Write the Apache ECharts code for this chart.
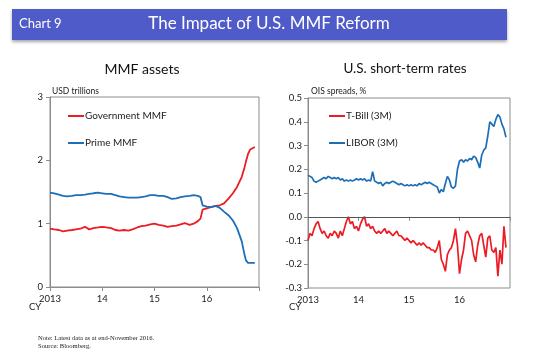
<!DOCTYPE html>
<html>
<head>
<meta charset="utf-8">
<script src="https://cdn.jsdelivr.net/npm/echarts@6/dist/echarts.min.js"></script>
<style>
html,body{margin:0;padding:0;background:#fff;}
#c{width:550px;height:363px;}
</style>
</head>
<body>
<div id="c"></div>
<script>
// ---- Left panel: MMF assets (USD trillions) ----
var leftDates = [2013.00,2013.08,2013.17,2013.25,2013.33,2013.42,2013.50,2013.58,2013.67,2013.75,2013.83,2013.92,
  2014.00,2014.08,2014.17,2014.25,2014.33,2014.42,2014.50,2014.58,2014.67,2014.75,2014.83,2014.92,
  2015.00,2015.08,2015.17,2015.25,2015.33,2015.42,2015.50,2015.58,2015.67,2015.75,2015.83,2015.88,2015.92,
  2016.00,2016.08,2016.17,2016.25,2016.33,2016.42,2016.50,2016.58,2016.67,2016.72,2016.75,2016.79,2016.83,2016.92];
var governmentMMF = [0.92,0.91,0.90,0.88,0.89,0.90,0.91,0.92,0.95,0.91,0.93,0.94,
  0.95,0.94,0.93,0.90,0.89,0.90,0.89,0.91,0.94,0.96,0.97,0.99,
  1.00,0.98,0.97,0.95,0.96,0.97,0.99,1.01,0.98,1.00,1.04,1.08,1.22,
  1.24,1.26,1.28,1.29,1.32,1.40,1.48,1.58,1.74,1.88,1.98,2.10,2.17,2.21];
var primeMMF = [1.49,1.48,1.46,1.44,1.43,1.44,1.45,1.45,1.46,1.47,1.48,1.49,
  1.48,1.47,1.47,1.45,1.43,1.42,1.41,1.41,1.41,1.42,1.43,1.45,
  1.45,1.44,1.44,1.42,1.39,1.40,1.42,1.43,1.44,1.45,1.44,1.42,1.29,
  1.27,1.26,1.28,1.25,1.19,1.13,1.05,0.93,0.72,0.52,0.42,0.38,0.38,0.38];
var leftYTicks = [0, 1, 2, 3];

// ---- Right panel: U.S. short-term rates (OIS spreads, %) ----
var rightStart = 2013.00, rightStep = 0.04; // two-weekly observation index
var tBill3M = [-0.10,-0.07,-0.08,-0.05,-0.03,-0.02,-0.05,-0.07,-0.06,-0.08,
  -0.09,-0.07,-0.08,-0.06,-0.07,-0.09,-0.06,-0.08,-0.05,-0.02,
  0.00,-0.03,-0.02,-0.05,-0.04,-0.06,-0.03,-0.01,0.00,-0.04,
  -0.03,-0.05,-0.04,-0.06,-0.07,-0.06,-0.07,-0.06,-0.05,-0.07,
  -0.06,-0.07,-0.08,-0.07,-0.06,-0.08,-0.08,-0.09,-0.10,-0.09,
  -0.10,-0.11,-0.10,-0.11,-0.12,-0.11,-0.12,-0.11,-0.12,-0.13,
  -0.13,-0.14,-0.14,-0.15,-0.13,-0.10,-0.18,-0.20,-0.23,-0.16,
  -0.14,-0.13,-0.10,-0.05,-0.12,-0.24,-0.18,-0.14,-0.07,-0.06,
  -0.08,-0.10,-0.16,-0.19,-0.12,-0.08,-0.07,-0.12,-0.17,-0.09,
  -0.08,-0.14,-0.15,-0.13,-0.25,-0.14,-0.20,-0.04,-0.13];
var libor3M = [0.175,0.17,0.165,0.15,0.145,0.15,0.155,0.16,0.165,0.16,
  0.17,0.165,0.16,0.165,0.16,0.165,0.155,0.16,0.15,0.155,
  0.15,0.155,0.15,0.155,0.16,0.155,0.16,0.155,0.16,0.15,
  0.155,0.15,0.19,0.15,0.145,0.14,0.145,0.13,0.14,0.145,
  0.14,0.145,0.15,0.145,0.14,0.135,0.14,0.135,0.13,0.135,
  0.13,0.135,0.13,0.135,0.13,0.14,0.135,0.14,0.145,0.14,
  0.145,0.14,0.135,0.13,0.125,0.10,0.115,0.105,0.14,0.17,
  0.155,0.125,0.12,0.13,0.20,0.235,0.24,0.23,0.24,0.235,
  0.245,0.24,0.255,0.25,0.23,0.205,0.26,0.28,0.29,0.34,
  0.40,0.39,0.38,0.41,0.43,0.42,0.39,0.37,0.335];
var rightYTicks = [-0.3,-0.2,-0.1,0.0,0.1,0.2,0.3,0.4,0.5];

var xYears = [2013, 2014, 2015, 2016, 2017];

function pairs(xs, ys){ return ys.map(function(v,i){ return [xs[i], v]; }); }
function idxPairs(ys){ return ys.map(function(v,i){ return [+(rightStart + i*rightStep).toFixed(2), v]; }); }

var RED = '#ec1c24', BLUE = '#1c6fb6', AX = '#8c8c8c';
var labelFont = 'Lato, "Open Sans", sans-serif';

function xAxisCfg(gi){
  return {
    type:'value', gridIndex:gi, min:xYears[0], max:xYears[xYears.length-1], interval:1,
    axisLine:{show:true, lineStyle:{color:AX, width:1}},
    axisTick:{show:true, length:4, lineStyle:{color:AX}},
    splitLine:{show:false},
    axisLabel:{fontSize:9.5, color:'#222', fontFamily:labelFont, margin:7,
      formatter:function(v){ if(v===2013) return '2013'; if(v===2017) return ''; return String(v).slice(2); }}
  };
}

function legendCfg(left, names){
  return {orient:'vertical', left:left, top:111, padding:0, itemGap:17, itemWidth:16, itemHeight:2, icon:'rect',
    textStyle:{fontSize:10, color:'#222', fontFamily:labelFont, padding:[0,0,0,-4]},
    data:names};
}

var chart = echarts.init(document.getElementById('c'), null, {renderer:'canvas'});
chart.setOption({
  animation:false,
  backgroundColor:'#fff',
  grid:[
    {left:50, top:97, width:209, height:190, show:true, borderColor:AX, borderWidth:1, backgroundColor:'transparent'},
    {left:308, top:98, width:202, height:190, show:true, borderColor:AX, borderWidth:1, backgroundColor:'transparent'}
  ],
  xAxis:[xAxisCfg(0), xAxisCfg(1)],
  yAxis:[
    {type:'value', gridIndex:0, min:leftYTicks[0], max:leftYTicks[leftYTicks.length-1], interval:1,
      axisLine:{show:true, lineStyle:{color:AX}}, axisTick:{show:true, length:4, lineStyle:{color:AX}},
      splitLine:{show:false},
      axisLabel:{fontSize:9.5, color:'#222', fontFamily:labelFont, margin:7}},
    {type:'value', gridIndex:1, min:rightYTicks[0], max:rightYTicks[rightYTicks.length-1], interval:0.1,
      axisLine:{show:true, lineStyle:{color:AX}}, axisTick:{show:true, length:4, lineStyle:{color:AX}},
      splitLine:{show:false},
      axisLabel:{fontSize:9.5, color:'#222', fontFamily:labelFont, margin:6,
        formatter:function(v){ return (Math.round(v*10)/10).toFixed(1); }}}
  ],
  legend:[
    legendCfg(68, ['Government MMF','Prime MMF']),
    legendCfg(329, ['T-Bill (3M)','LIBOR (3M)'])
  ],
  series:[
    {name:'Government MMF', type:'line', xAxisIndex:0, yAxisIndex:0, data:pairs(leftDates, governmentMMF),
      showSymbol:false, lineStyle:{color:RED, width:1.8}, itemStyle:{color:RED}},
    {name:'Prime MMF', type:'line', xAxisIndex:0, yAxisIndex:0, data:pairs(leftDates, primeMMF),
      showSymbol:false, lineStyle:{color:BLUE, width:1.8}, itemStyle:{color:BLUE}},
    {name:'T-Bill (3M)', type:'line', xAxisIndex:1, yAxisIndex:1, data:idxPairs(tBill3M),
      showSymbol:false, lineStyle:{color:RED, width:1.7}, itemStyle:{color:RED},
      markLine:{silent:true, symbol:'none', label:{show:false}, lineStyle:{color:'#555', width:1.2, type:'solid'},
        data:[{yAxis:0}]}},
    {name:'LIBOR (3M)', type:'line', xAxisIndex:1, yAxisIndex:1, data:idxPairs(libor3M),
      showSymbol:false, lineStyle:{color:BLUE, width:1.7}, itemStyle:{color:BLUE}}
  ],
  graphic:[
    {type:'rect', shape:{x:12, y:9, width:495, height:31},
      style:{fill:'#4f5bc9', shadowBlur:3, shadowOffsetY:2, shadowColor:'rgba(0,0,0,0.35)'}},
    {type:'text', x:19, y:24, style:{text:'Chart 9', fill:'#fff', font:'13px Lato, sans-serif', verticalAlign:'middle'}},
    {type:'text', x:269, y:24, style:{text:'The Impact of U.S. MMF Reform', fill:'#fff', font:'17px Lato, sans-serif', align:'center', verticalAlign:'middle'}},
    {type:'text', x:142, y:69, style:{text:'MMF assets', fill:'#111', font:'14px Lato, sans-serif', align:'center', verticalAlign:'middle'}},
    {type:'text', x:405, y:69, style:{text:'U.S. short-term rates', fill:'#111', font:'13.5px Lato, sans-serif', align:'center', verticalAlign:'middle'}},
    {type:'text', x:52, y:91, style:{text:'USD trillions', fill:'#222', font:'8.5px Lato, sans-serif', verticalAlign:'middle'}},
    {type:'text', x:311, y:91, style:{text:'OIS spreads, %', fill:'#222', font:'8.5px Lato, sans-serif', verticalAlign:'middle'}},
    {type:'text', x:29, y:307, style:{text:'CY', fill:'#222', font:'9.5px Lato, sans-serif', verticalAlign:'middle'}},
    {type:'text', x:289, y:307, style:{text:'CY', fill:'#222', font:'9.5px Lato, sans-serif', verticalAlign:'middle'}},
    {type:'text', x:38, y:338, style:{text:'Note: Latest data as at end-November 2016.', fill:'#222', font:'6.6px "Liberation Serif", serif', verticalAlign:'middle'}},
    {type:'text', x:38, y:346, style:{text:'Source: Bloomberg.', fill:'#222', font:'6.6px "Liberation Serif", serif', verticalAlign:'middle'}}
  ]
});
</script>
</body>
</html>
